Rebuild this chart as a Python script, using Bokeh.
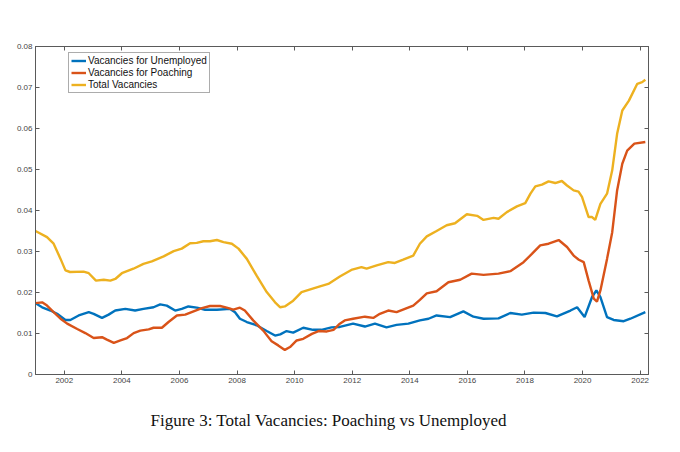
from bokeh.plotting import figure
from bokeh.models import (LinearAxis, Range1d, FixedTicker, NumeralTickFormatter,
                          Legend, LegendItem, Title)
from bokeh.embed import file_html
from bokeh.resources import INLINE

# --- data ---
years_total = [2001.0, 2001.4, 2001.63, 2001.87, 2002.04, 2002.2, 2002.67, 2002.85, 2003.1, 2003.37,
               2003.6, 2003.77, 2004.0, 2004.4, 2004.75, 2005.04, 2005.45, 2005.8, 2006.08, 2006.37,
               2006.6, 2006.83, 2007.06, 2007.3, 2007.53, 2007.82, 2008.05, 2008.34, 2008.68, 2009.03,
               2009.32, 2009.5, 2009.66, 2009.95, 2010.24, 2010.6, 2010.88, 2011.17, 2011.57, 2012.0,
               2012.32, 2012.5, 2012.85, 2013.25, 2013.48, 2013.77, 2014.12, 2014.35, 2014.59, 2014.93,
               2015.28, 2015.57, 2015.98, 2016.34, 2016.56, 2016.91, 2017.08, 2017.37, 2017.72, 2018.01,
               2018.19, 2018.36, 2018.59, 2018.82, 2019.05, 2019.28, 2019.46, 2019.69, 2019.86, 2019.98,
               2020.21, 2020.33, 2020.44, 2020.62, 2020.85, 2021.03, 2021.2, 2021.38, 2021.61, 2021.9,
               2022.07, 2022.18]
total = [0.0350, 0.0335, 0.0319, 0.0282, 0.0254, 0.0250, 0.0251, 0.0247, 0.0229, 0.0231,
         0.0229, 0.0233, 0.0247, 0.0258, 0.0270, 0.0276, 0.0288, 0.0301, 0.0307, 0.0320,
         0.0321, 0.0325, 0.0325, 0.0328, 0.0323, 0.0319, 0.0307, 0.0282, 0.0241, 0.0201,
         0.0176, 0.0164, 0.0166, 0.0180, 0.0201, 0.0209, 0.0215, 0.0221, 0.0239, 0.0256,
         0.0262, 0.0258, 0.0266, 0.0274, 0.0272, 0.0280, 0.0290, 0.0319, 0.0337, 0.0350,
         0.0364, 0.0369, 0.0391, 0.0387, 0.0377, 0.0382, 0.0380, 0.0396, 0.0410, 0.0418,
         0.0441, 0.0459, 0.0463, 0.0471, 0.0467, 0.0472, 0.0461, 0.0449, 0.0446, 0.0433,
         0.0384, 0.0384, 0.0377, 0.0416, 0.0441, 0.0498, 0.0587, 0.0644, 0.0668, 0.0709,
         0.0713, 0.0719]

years_poach = [2001.0, 2001.23, 2001.4, 2001.63, 2001.87, 2002.1, 2002.45, 2002.73, 2003.02, 2003.31,
               2003.48, 2003.72, 2003.95, 2004.18, 2004.41, 2004.64, 2004.93, 2005.1, 2005.39, 2005.62,
               2005.91, 2006.2, 2006.49, 2006.78, 2007.06, 2007.41, 2007.64, 2007.87, 2008.1, 2008.27,
               2008.56, 2008.91, 2009.2, 2009.43, 2009.66, 2009.84, 2010.07, 2010.3, 2010.6, 2010.83,
               2011.12, 2011.35, 2011.57, 2011.74, 2012.03, 2012.44, 2012.73, 2012.96, 2013.25, 2013.54,
               2013.83, 2014.12, 2014.35, 2014.59, 2014.93, 2015.34, 2015.75, 2016.15, 2016.56, 2017.08,
               2017.49, 2017.95, 2018.24, 2018.53, 2018.82, 2019.17, 2019.46, 2019.69, 2019.87, 2020.04,
               2020.21, 2020.39, 2020.5, 2020.62, 2020.85, 2021.03, 2021.2, 2021.38, 2021.55, 2021.8,
               2022.18]
poaching = [0.0174, 0.0176, 0.0168, 0.0152, 0.0136, 0.0124, 0.0111, 0.0101, 0.0089, 0.0091,
            0.0085, 0.0077, 0.0083, 0.0089, 0.0101, 0.0107, 0.0110, 0.0114, 0.0114, 0.0128,
            0.0144, 0.0146, 0.0154, 0.0162, 0.0167, 0.0167, 0.0163, 0.0158, 0.0163, 0.0156,
            0.0132, 0.0107, 0.0081, 0.0071, 0.0060, 0.0067, 0.0083, 0.0087, 0.0099, 0.0106,
            0.0105, 0.0109, 0.0124, 0.0132, 0.0136, 0.0141, 0.0138, 0.0148, 0.0156, 0.0152,
            0.0160, 0.0168, 0.0182, 0.0198, 0.0203, 0.0225, 0.0231, 0.0246, 0.0243, 0.0246,
            0.0252, 0.0274, 0.0294, 0.0315, 0.0319, 0.0328, 0.0311, 0.0290, 0.0280, 0.0274,
            0.0229, 0.0185, 0.0178, 0.0205, 0.0282, 0.0347, 0.0449, 0.0514, 0.0546, 0.0563,
            0.0567]

years_unemp = [2001.0, 2001.23, 2001.52, 2001.75, 2002.04, 2002.21, 2002.5, 2002.85, 2003.02, 2003.31,
               2003.54, 2003.77, 2004.12, 2004.46, 2004.75, 2005.1, 2005.33, 2005.56, 2005.85, 2006.08,
               2006.31, 2006.6, 2006.89, 2007.3, 2007.76, 2007.93, 2008.1, 2008.34, 2008.68, 2009.03,
               2009.32, 2009.5, 2009.72, 2009.95, 2010.3, 2010.64, 2010.93, 2011.28, 2011.57, 2012.03,
               2012.44, 2012.79, 2013.19, 2013.54, 2013.95, 2014.35, 2014.65, 2014.93, 2015.4, 2015.86,
               2016.21, 2016.56, 2017.08, 2017.49, 2017.89, 2018.3, 2018.71, 2019.11, 2019.58, 2019.81,
               2020.07, 2020.33, 2020.48, 2020.62, 2020.85, 2021.08, 2021.43, 2021.66, 2022.18]
unemployed = [0.0174, 0.0164, 0.0156, 0.0148, 0.0133, 0.0133, 0.0144, 0.0152, 0.0148, 0.0138,
              0.0146, 0.0156, 0.0160, 0.0156, 0.0160, 0.0164, 0.0171, 0.0168, 0.0156, 0.0160,
              0.0166, 0.0163, 0.0158, 0.0158, 0.0160, 0.0152, 0.0136, 0.0128, 0.0120, 0.0106,
              0.0095, 0.0098, 0.0106, 0.0102, 0.0114, 0.0109, 0.0109, 0.0115, 0.0116, 0.0124,
              0.0117, 0.0124, 0.0115, 0.0121, 0.0124, 0.0132, 0.0136, 0.0144, 0.0140, 0.0154,
              0.0141, 0.0136, 0.0137, 0.0150, 0.0146, 0.0151, 0.0150, 0.0142, 0.0156, 0.0164,
              0.0140, 0.0189, 0.0205, 0.0189, 0.0140, 0.0133, 0.0130, 0.0136, 0.0152]

x_ticks = [2002, 2004, 2006, 2008, 2010, 2012, 2014, 2016, 2018, 2020, 2022]
y_ticks = [0, 0.01, 0.02, 0.03, 0.04, 0.05, 0.06, 0.07, 0.08]

labels = ["Vacancies for Unemployed", "Vacancies for Poaching", "Total Vacancies"]
colors = ["#0072BD", "#D95319", "#EDB120"]

AXIS_COLOR = "#5a5a5a"
FONT = "Liberation Sans"

p = figure(width=664, height=452, output_backend="svg", toolbar_location=None,
           x_range=Range1d(2001.0, 2022.29), y_range=Range1d(0, 0.08),
           min_border_left=35, min_border_right=16, min_border_top=46, min_border_bottom=78,
           x_axis_location=None, y_axis_location=None)
p.grid.visible = False
p.outline_line_color = AXIS_COLOR
p.outline_line_width = 1
p.background_fill_color = "white"
p.border_fill_color = "white"


def style_axis(ax, show_labels):
    ax.axis_line_color = AXIS_COLOR
    ax.major_tick_line_color = AXIS_COLOR
    ax.major_tick_in = 4
    ax.major_tick_out = 0
    ax.minor_tick_line_color = None
    ax.major_label_text_font = FONT
    if show_labels:
        ax.major_label_text_color = "#444444"
        ax.major_label_text_font_size = "8px"
        ax.major_label_standoff = 3
    else:
        ax.major_label_text_color = None
        ax.major_label_text_font_size = "1px"
        ax.major_label_standoff = 0


xb = LinearAxis(ticker=FixedTicker(ticks=x_ticks))
xt = LinearAxis(ticker=FixedTicker(ticks=x_ticks))
yl = LinearAxis(ticker=FixedTicker(ticks=y_ticks), formatter=NumeralTickFormatter(format="0.[00]"))
yr = LinearAxis(ticker=FixedTicker(ticks=y_ticks))
style_axis(xb, True)
style_axis(xt, False)
style_axis(yl, True)
style_axis(yr, False)
p.add_layout(xb, "below")
p.add_layout(xt, "above")
p.add_layout(yl, "left")
p.add_layout(yr, "right")

r_u = p.line(years_unemp, unemployed, line_color=colors[0], line_width=2.4)
r_p = p.line(years_poach, poaching, line_color=colors[1], line_width=2.4)
r_t = p.line(years_total, total, line_color=colors[2], line_width=2.4)

legend = Legend(items=[LegendItem(label=labels[0], renderers=[r_u]),
                       LegendItem(label=labels[1], renderers=[r_p]),
                       LegendItem(label=labels[2], renderers=[r_t])],
                location=(33, 281))
legend.label_text_font = FONT
legend.label_text_font_size = "10px"
legend.label_text_color = "#111111"
legend.label_height = 11
legend.label_standoff = 2
legend.glyph_width = 15
legend.glyph_height = 11
legend.spacing = 1
legend.padding = 2
legend.margin = 0
legend.border_line_color = AXIS_COLOR
legend.border_line_width = 1
legend.background_fill_alpha = 1
p.add_layout(legend, "center")

caption = Title(text="Figure 3: Total Vacancies: Poaching vs Unemployed", align="left",
                text_font="Liberation Serif", text_font_size="17px", text_font_style="normal",
                text_color="#111111", standoff=46, offset=115)
p.add_layout(caption, "below")

open("out.html", "w").write(file_html(p, INLINE))
